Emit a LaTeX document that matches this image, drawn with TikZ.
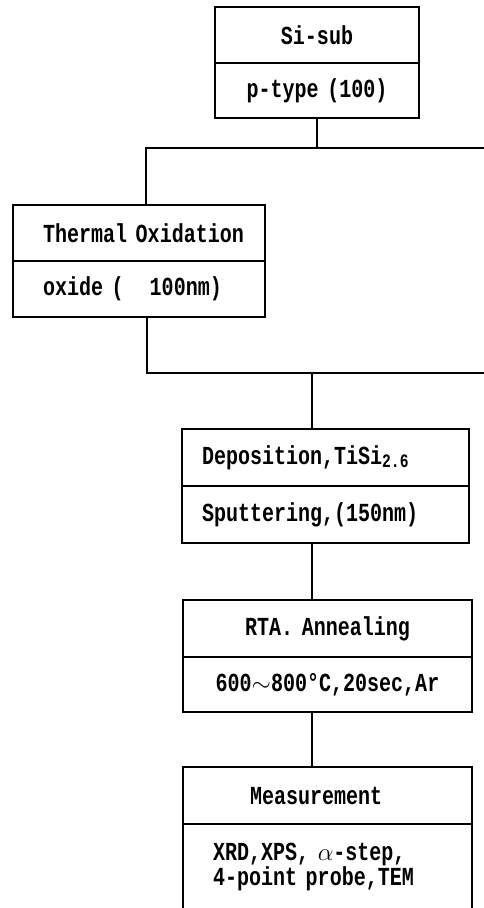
\documentclass[tikz,border=0pt]{standalone}
\usepackage{fontspec}
\newfontfamily\boxfont[FakeStretch=0.77]{Liberation Mono}
\begin{document}
\begin{tikzpicture}[x=1pt,y=-1pt,line width=1.2pt,
  part/.style={draw, inner sep=0pt, text width=#1, minimum width=#1, align=left,
    font={\boxfont\bfseries\fontsize{26pt}{25pt}\selectfont}},
  link/.style={draw, line width=1.3pt}]
\clip (0,0) rectangle (484,908);
% box 1
\node[part=204pt, minimum height=56pt, align=center] (b1t) at (317,35) {Si-sub};
\node[part=204pt, minimum height=55pt, align=center] (b1b) at (317,90.5) {p-type (100)};
% box 2
\node[part=252pt, minimum height=56pt] (b2t) at (139,233) {\hspace*{30pt}Thermal Oxidation};
\node[part=252pt, minimum height=56pt] (b2b) at (139,289) {\hspace*{30pt}oxide (\ \ \ 100nm)};
% box 3
\node[part=287pt, minimum height=57pt] (b3t) at (325.5,457.5) {\hspace*{20pt}Deposition,TiSi\raisebox{-3pt}{\fontsize{19pt}{19pt}\selectfont 2.6}};
\node[part=287pt, minimum height=57pt] (b3b) at (325.5,514.5) {\hspace*{20pt}Sputtering,(150nm)};
% box 4
\node[part=289pt, minimum height=57pt, align=center] (b4t) at (327.5,628.5) {RTA. Annealing};
\node[part=289pt, minimum height=55pt, align=center] (b4b) at (327.5,684.5) {600$\sim$800°C,20sec,Ar};
% box 5
\node[part=289pt, minimum height=57pt] (b5t) at (327.5,795.5) {\hspace*{67pt}Measurement};
\node[part=289pt, minimum height=106pt] (b5b) at (327.5,877) {\hspace*{30pt}XRD,XPS, $\alpha$-step,\\\hspace*{30pt}4-point probe,TEM\\\mbox{}};
% connectors
\coordinate (h1l) at (146,148);
\coordinate (h1r) at (484,148);
\coordinate (h2l) at (147,373);
\coordinate (h2r) at (484,373);
\coordinate (j2) at (312,373);
\draw[link] (b1b.south) -- (b1b.south |- h1l);
\draw[link] (h1r) -- (h1l) -- (b2t.north -| h1l);
\draw[link] (b2b.south -| h2l) -- (h2l) -- (h2r);
\draw[link] (j2) -- (j2 |- b3t.north);
\draw[link] (b3b.south -| j2) -- (b4t.north -| j2);
\draw[link] (b4b.south -| j2) -- (b5t.north -| j2);
\end{tikzpicture}
\end{document}
